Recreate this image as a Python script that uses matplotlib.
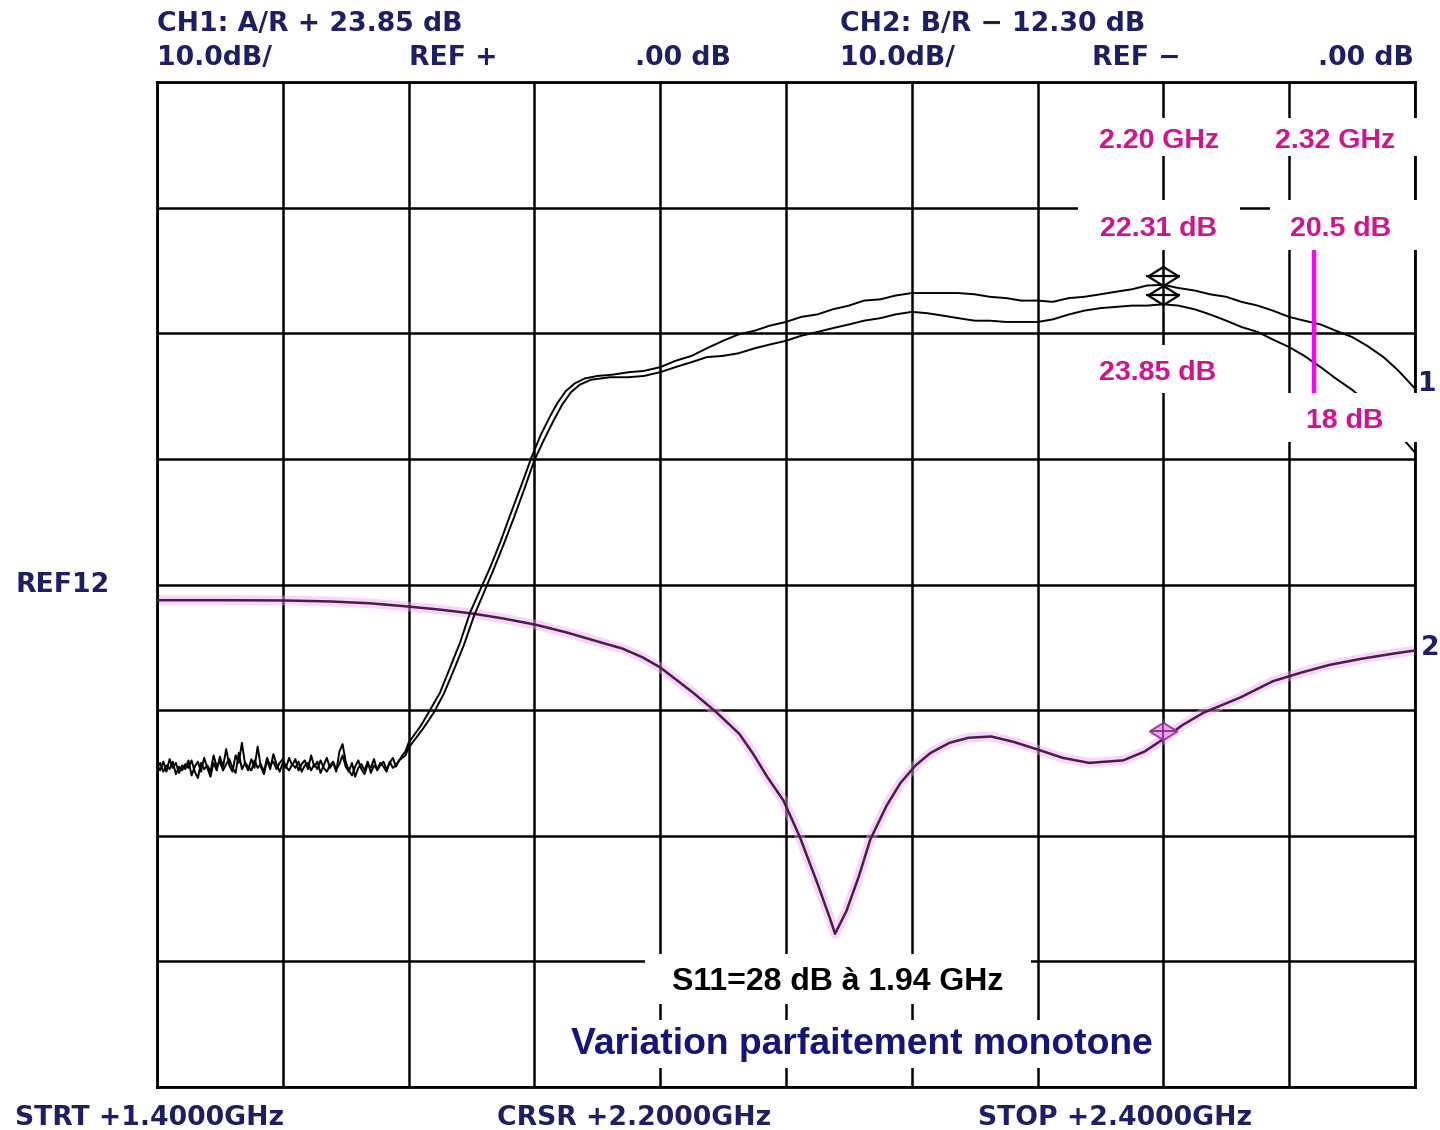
import numpy as np
import matplotlib
matplotlib.use("Agg")
import matplotlib.pyplot as plt
from matplotlib.patches import Rectangle
from matplotlib.transforms import offset_copy

# ---------------- data ----------------
f_start, f_stop = 1.4, 2.4
db_min, db_max = -40, 40
x_ticks = [1.4, 1.5, 1.6, 1.7, 1.8, 1.9, 2.0, 2.1, 2.2, 2.3, 2.4]
y_ticks = [-40, -30, -20, -10, 0, 10, 20, 30, 40]

# CH1 noise floor (both states), 80 samples from 1.400 to 1.5975 GHz
noise_freq = np.linspace(1.400, 1.5975, 80)
noise_a = [-14.3, -14.8, -14.1, -14.9, -13.9, -14.6, -14.2, -15.0, -14.4, -14.7,
           -14.0, -15.2, -14.5, -14.1, -14.9, -13.8, -14.6, -15.3, -14.2, -14.8,
           -13.7, -14.5, -13.1, -14.4, -14.9, -13.6, -14.2, -12.6, -14.3, -14.8,
           -13.9, -14.6, -12.9, -14.5, -15.1, -14.0, -14.7, -13.5, -14.3, -14.9,
           -14.2, -14.6, -13.8, -14.4, -13.9, -14.8, -14.3, -14.0, -14.7, -13.6,
           -14.5, -14.1, -15.0, -14.4, -13.8, -14.6, -14.2, -14.9, -13.3, -12.7,
           -14.1, -14.8, -15.2, -14.5, -14.0, -14.7, -15.1, -14.3, -14.6, -13.9,
           -14.8, -14.4, -14.1, -14.7, -14.2, -13.8, -14.5, -14.0, -13.6, -13.3]
noise_b = [-14.6, -14.2, -14.9, -14.4, -14.7, -14.1, -15.1, -14.5, -14.8, -14.3,
           -14.6, -14.0, -14.9, -15.4, -14.2, -14.7, -14.4, -14.9, -13.6, -14.5,
           -14.1, -14.8, -14.3, -13.9, -14.6, -15.0, -13.4, -14.7, -14.2, -14.5,
           -14.8, -14.0, -14.6, -14.3, -14.9, -13.8, -14.4, -14.1, -14.7, -14.2,
           -13.9, -14.5, -14.8, -14.3, -14.6, -14.1, -14.9, -14.4, -14.2, -14.8,
           -14.3, -14.7, -14.0, -14.6, -14.9, -14.4, -14.1, -14.7, -14.3, -13.6,
           -14.5, -14.9, -14.2, -15.3, -14.6, -14.3, -14.8, -14.1, -15.0, -14.4,
           -14.7, -14.2, -14.5, -14.9, -14.1, -14.6, -14.4, -14.0, -13.8, -13.6]

# CH1 trace 1 (upper, 23.85 dB at 2.20 GHz)
ch1a_freq = [1.600, 1.610, 1.617, 1.625, 1.633, 1.641, 1.649, 1.657, 1.665, 1.673,
             1.681, 1.690, 1.698, 1.705, 1.712, 1.718, 1.725, 1.732, 1.740, 1.750,
             1.762, 1.775, 1.787, 1.800, 1.812, 1.825, 1.837, 1.850, 1.862, 1.875,
             1.887, 1.900, 1.912, 1.925, 1.937, 1.950, 1.962, 1.975, 1.987, 2.000,
             2.012, 2.025, 2.037, 2.050, 2.062, 2.075, 2.087, 2.100, 2.112, 2.125,
             2.137, 2.150, 2.162, 2.175, 2.187, 2.200, 2.212, 2.225, 2.237, 2.250,
             2.262, 2.275, 2.287, 2.300, 2.312, 2.325, 2.337, 2.350, 2.362, 2.375,
             2.387, 2.400]
ch1a_db = [-12.6, -11.2, -10.0, -8.6, -6.6, -4.6, -2.2, -0.4, 1.4, 3.4,
           5.6, 8.0, 10.2, 11.9, 13.3, 14.4, 15.4, 16.0, 16.4, 16.6,
           16.7, 16.9, 17.0, 17.3, 17.8, 18.2, 18.8, 19.4, 19.9, 20.2,
           20.6, 20.9, 21.3, 21.5, 21.9, 22.2, 22.6, 22.7, 23.0, 23.2,
           23.2, 23.2, 23.2, 23.1, 22.9, 22.8, 22.6, 22.6, 22.5, 22.8,
           22.9, 23.1, 23.3, 23.5, 23.8, 23.85, 23.6, 23.4, 23.1, 22.9,
           22.5, 22.2, 21.8, 21.3, 21.0, 20.7, 20.2, 19.7, 19.0, 18.1,
           17.0, 15.6]

# CH1 trace 2 (lower, 22.31 dB at 2.20 GHz)
ch1b_freq = [1.600, 1.612, 1.620, 1.628, 1.636, 1.644, 1.652, 1.660, 1.668, 1.676,
             1.684, 1.692, 1.700, 1.708, 1.715, 1.722, 1.729, 1.736, 1.745, 1.760,
             1.775, 1.787, 1.800, 1.812, 1.825, 1.837, 1.850, 1.862, 1.875, 1.887,
             1.900, 1.912, 1.925, 1.937, 1.950, 1.962, 1.975, 1.987, 2.000, 2.012,
             2.025, 2.037, 2.050, 2.062, 2.075, 2.087, 2.100, 2.112, 2.125, 2.137,
             2.150, 2.162, 2.175, 2.187, 2.200, 2.212, 2.225, 2.237, 2.250, 2.262,
             2.275, 2.287, 2.300, 2.312, 2.325, 2.337, 2.350, 2.362, 2.375, 2.387,
             2.400]
ch1b_db = [-13.0, -11.4, -10.2, -8.7, -6.8, -4.8, -2.5, -0.6, 1.3, 3.3,
           5.4, 7.6, 9.9, 11.6, 13.0, 14.3, 15.3, 15.9, 16.3, 16.5,
           16.5, 16.6, 16.9, 17.3, 17.7, 18.1, 18.2, 18.4, 18.8, 19.1,
           19.4, 19.8, 20.1, 20.4, 20.7, 21.0, 21.2, 21.5, 21.7, 21.6,
           21.4, 21.2, 21.0, 21.0, 20.9, 20.9, 20.9, 21.1, 21.5, 21.8,
           22.0, 22.1, 22.2, 22.2, 22.31, 22.2, 21.9, 21.5, 21.0, 20.5,
           20.1, 19.5, 18.9, 18.2, 17.3, 16.4, 15.5, 14.5, 13.4, 12.0,
           10.5]

# CH2 (S11)
ch2_freq = [1.400, 1.450, 1.500, 1.538, 1.570, 1.599, 1.625, 1.650, 1.675, 1.701,
            1.725, 1.749, 1.770, 1.786, 1.800, 1.813, 1.826, 1.845, 1.863, 1.874,
            1.885, 1.898, 1.911, 1.925, 1.935, 1.939, 1.948, 1.958, 1.967, 1.980,
            1.991, 2.003, 2.015, 2.030, 2.045, 2.063, 2.080, 2.099, 2.120, 2.141,
            2.168, 2.185, 2.200, 2.215, 2.232, 2.261, 2.287, 2.310, 2.332, 2.358,
            2.383, 2.400]
ch2_db = [-1.25, -1.25, -1.27, -1.35, -1.5, -1.75, -2.0, -2.3, -2.7, -3.2,
          -3.8, -4.5, -5.1, -5.8, -6.6, -7.6, -8.6, -10.2, -11.9, -13.5,
          -15.3, -17.2, -20.1, -23.8, -26.6, -27.8, -26.0, -23.2, -20.3, -17.6,
          -15.8, -14.4, -13.4, -12.6, -12.2, -12.1, -12.5, -13.1, -13.8, -14.2,
          -14.0, -13.3, -12.3, -11.2, -10.2, -9.0, -7.7, -7.0, -6.4, -5.9,
          -5.5, -5.25]

# markers
mk_freq = 2.20
mk_ch1 = [23.85, 22.31]
mk_ch2 = -12.30
span_freq = 2.32
span_db = [15.2, 26.6]

# ---------------- figure ----------------
W, H = 1440, 1130
fig = plt.figure(figsize=(W / 100, H / 100), dpi=100)
fig.patch.set_facecolor("white")
ax = fig.add_axes([157 / W, 1 - 1087 / H, 1258 / W, 1005 / H])
ax.set_xlim(f_start, f_stop)
ax.set_ylim(db_min, db_max)
ax.set_xticks(x_ticks)
ax.set_yticks(y_ticks)
ax.tick_params(length=0, labelbottom=False, labelleft=False)
ax.grid(True, color="black", linewidth=1.8, zorder=1)
ax.set_axisbelow(True)
for s in ax.spines.values():
    s.set_linewidth(2.0)
    s.set_color("black")

# CH2 trace with pink halo
ax.plot(ch2_freq, ch2_db, color="#f0a6f0", lw=7, alpha=0.45, solid_capstyle="round", zorder=2)
ax.plot(ch2_freq, ch2_db, color="#4a1c4a", lw=1.8, zorder=3)

# CH1 traces
ax.plot(list(noise_freq) + ch1a_freq, noise_a + ch1a_db, color="black", lw=1.4, zorder=4)
ax.plot(list(noise_freq) + ch1b_freq, noise_b + ch1b_db, color="black", lw=1.4, zorder=4)

# markers
diamond = [(-1.6, 0), (0, 1), (1.6, 0), (0, -1), (-1.6, 0)]
up = offset_copy(ax.transData, fig=fig, x=0, y=9, units="dots")
for v in mk_ch1:
    ax.plot([mk_freq], [v], marker=diamond, markersize=22, mfc="none", mec="black",
            mew=1.6, transform=up, zorder=5)
    ax.plot([mk_freq], [v], marker="_", markersize=24, mec="black", mew=1.6,
            transform=up, zorder=5)
up2 = offset_copy(ax.transData, fig=fig, x=0, y=8, units="dots")
ax.plot([mk_freq], [mk_ch2], marker=diamond, markersize=20, mfc="#eba3eb", mec="#a040a0",
        mew=1.4, transform=up2, zorder=5)
ax.plot([mk_freq], [mk_ch2], marker="+", markersize=18, mec="#7a2a7a", mew=1.2,
        transform=up2, zorder=5)

# magenta span bar
ax.plot([span_freq, span_freq], span_db, color="#ff00ff", lw=3.2, zorder=6,
        solid_capstyle="butt")

# ---------------- annotation boxes (white) ----------------
def box(x0, y0, x1, y1):
    fig.add_artist(Rectangle((x0 / W, 1 - y1 / H), (x1 - x0) / W, (y1 - y0) / H,
                             transform=fig.transFigure, facecolor="white",
                             edgecolor="none", zorder=10))

def ftext(x, y, s, **kw):
    fig.text(x / W, 1 - (y + 3) / H, s, zorder=11, **kw)

box(1080, 118, 1240, 156)
box(1250, 118, 1432, 156)
box(1078, 200, 1240, 250)
box(1270, 200, 1435, 250)
box(1080, 345, 1240, 393)
box(1287, 393, 1433, 442)
box(645, 954, 1031, 1004)
box(562, 1020, 1158, 1068)

mag = "#d3138d"
mkw = dict(color=mag, fontsize=20.5, fontweight="bold", family="Liberation Sans",
           ha="center", va="center")
ftext(1159, 138, "2.20 GHz", **mkw)
ftext(1335, 138, "2.32 GHz", **mkw)
ftext(1158, 226, "22.31 dB", **mkw)
ftext(1341, 226, "20.5 dB", **mkw)
ftext(1158, 370, "23.85 dB", **mkw)
ftext(1345, 418, "18 dB", **mkw)

ftext(838, 979, "S11=28 dB à 1.94 GHz", color="black", fontsize=23, fontweight="bold",
      family="Liberation Sans", ha="center", va="center")
ftext(862, 1042, "Variation parfaitement monotone", color="#14147a", fontsize=26.8,
      fontweight="bold", family="Liberation Sans", ha="center", va="center")

# ---------------- instrument header / footer texts ----------------
navy = "#1e1e66"
hkw = dict(color=navy, fontsize=19.2, fontweight="bold", family="DejaVu Sans", va="center")
ftext(157, 21, "CH1: A/R + 23.85 dB", ha="left", **hkw)
ftext(157, 55, "10.0dB/", ha="left", **hkw)
ftext(409, 55, "REF +", ha="left", **hkw)
ftext(731, 55, ".00 dB", ha="right", **hkw)
ftext(840, 21, "CH2: B/R \u2212 12.30 dB", ha="left", **hkw)
ftext(840, 55, "10.0dB/", ha="left", **hkw)
ftext(1092, 55, "REF \u2212", ha="left", **hkw)
ftext(1414, 55, ".00 dB", ha="right", **hkw)
ftext(15, 582, "REF12", ha="left", **hkw)
ftext(15, 1115, "STRT +1.4000GHz", ha="left", **hkw)
ftext(497, 1115, "CRSR +2.2000GHz", ha="left", **hkw)
ftext(978, 1115, "STOP +2.4000GHz", ha="left", **hkw)
ftext(1427, 381, "1", ha="center", **hkw)
ftext(1430, 645, "2", ha="center", **hkw)

fig.savefig("out.png", dpi=100, facecolor="white")
